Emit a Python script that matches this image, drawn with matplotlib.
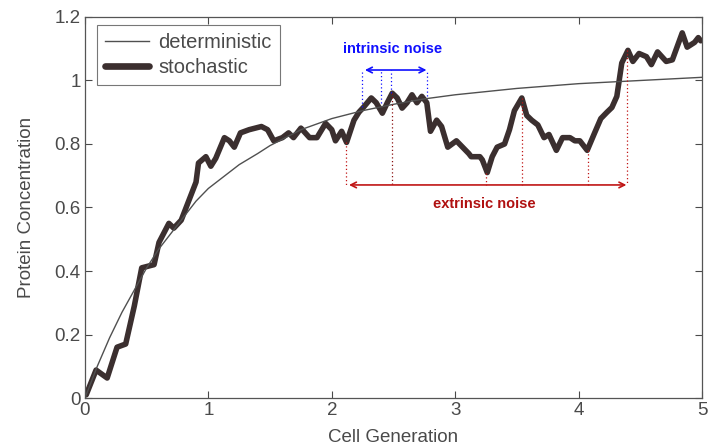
import matplotlib
matplotlib.use("Agg")
import matplotlib.pyplot as plt

plt.rcParams['font.family'] = ['Liberation Sans', 'DejaVu Sans']

# deterministic curve
det_x = [0.0, 0.05, 0.1, 0.2, 0.3, 0.4, 0.5, 0.6, 0.7, 0.8, 0.9, 1.0, 1.1, 1.25, 1.4,
         1.5, 1.75, 2.0, 2.25, 2.5, 2.75, 3.0, 3.5, 4.0, 4.5, 5.0]
det_y = [0.0, 0.05, 0.10, 0.19, 0.27, 0.34, 0.41, 0.47, 0.52, 0.57, 0.62, 0.66, 0.69, 0.735, 0.77,
         0.795, 0.845, 0.88, 0.905, 0.925, 0.942, 0.955, 0.975, 0.99, 1.0, 1.01]

# stochastic trajectory
sto_x = [0.01, 0.09, 0.18, 0.26, 0.33, 0.40, 0.46, 0.56, 0.60, 0.68, 0.72, 0.78, 0.84, 0.90,
         0.92, 0.98, 1.02, 1.06, 1.13, 1.17, 1.21, 1.26, 1.33, 1.43, 1.48, 1.53, 1.60, 1.65,
         1.69, 1.75, 1.82, 1.88, 1.95, 2.00, 2.03, 2.08, 2.12, 2.18, 2.22, 2.26, 2.32, 2.36,
         2.41, 2.45, 2.49, 2.53, 2.57, 2.61, 2.65, 2.69, 2.73, 2.77, 2.80, 2.85, 2.89, 2.94,
         3.01, 3.06, 3.11, 3.13, 3.20, 3.22, 3.26, 3.30, 3.34, 3.40, 3.44, 3.48, 3.54, 3.58,
         3.62, 3.67, 3.72, 3.76, 3.82, 3.87, 3.93, 3.97, 4.01, 4.07, 4.13, 4.18, 4.23, 4.27,
         4.31, 4.35, 4.40, 4.44, 4.49, 4.55, 4.59, 4.64, 4.71, 4.76, 4.84, 4.88, 4.94, 4.97,
         4.99]
sto_y = [0.01, 0.088, 0.063, 0.16, 0.17, 0.29, 0.41, 0.42, 0.49, 0.55, 0.535, 0.56, 0.62, 0.68,
         0.74, 0.76, 0.73, 0.755, 0.82, 0.81, 0.79, 0.835, 0.845, 0.855, 0.845, 0.81, 0.82, 0.835,
         0.82, 0.85, 0.82, 0.82, 0.865, 0.845, 0.81, 0.84, 0.805, 0.875, 0.90, 0.917, 0.945, 0.93,
         0.897, 0.93, 0.96, 0.945, 0.913, 0.93, 0.955, 0.93, 0.95, 0.93, 0.84, 0.875, 0.855, 0.79,
         0.81, 0.79, 0.77, 0.76, 0.76, 0.75, 0.71, 0.76, 0.79, 0.80, 0.845, 0.905, 0.945, 0.89,
         0.875, 0.86, 0.82, 0.83, 0.78, 0.82, 0.82, 0.81, 0.81, 0.78, 0.835, 0.88, 0.90, 0.915,
         0.95, 1.055, 1.095, 1.06, 1.085, 1.075, 1.05, 1.09, 1.06, 1.065, 1.15, 1.105, 1.12, 1.135,
         1.125]

# annotation positions (data units)
intr_lines_x = [2.246, 2.40, 2.48, 2.77]
intr_lines_top = [0.915, 0.93, 0.96, 0.95]
extr_lines_x = [2.117, 2.49, 3.25, 3.54, 4.08, 4.39]
extr_lines_top = [0.806, 0.96, 0.71, 0.945, 0.78, 1.095]

fig = plt.figure(figsize=(7.08, 4.47), dpi=100)
ax = fig.add_axes([0.12, 0.1096, 0.8715, 0.8524])

grey = '#4a4a4a'
ax.plot(det_x, det_y, color='#505050', lw=1.0, label='deterministic', zorder=3)
ax.plot(sto_x, sto_y, color='#3b2f2f', lw=4.0, label='stochastic', solid_joinstyle='round',
        solid_capstyle='round', zorder=2)

blue = '#1010ff'
red = '#c01515'
arrow_y_i = 1.033
for xv, top in zip(intr_lines_x, intr_lines_top):
    ax.plot([xv, xv], [top, arrow_y_i], ls=(0, (1, 2)), color=blue, lw=0.9, zorder=4)
ax.annotate('', xy=(2.246, arrow_y_i), xytext=(2.79, arrow_y_i),
            arrowprops=dict(arrowstyle='<->', color=blue, lw=1.2), zorder=5)
ax.text(2.49, 1.10, 'intrinsic noise', color=blue, fontsize=10.5, fontweight='bold',
        ha='center', va='center')

arrow_y_e = 0.671
for i, (xv, top) in enumerate(zip(extr_lines_x, extr_lines_top)):
    c = '#8a1010' if i == 1 else red
    ax.plot([xv, xv], [top, arrow_y_e], ls=(0, (1, 2)), color=c, lw=0.9, zorder=4)
ax.annotate('', xy=(2.117, arrow_y_e), xytext=(4.41, arrow_y_e),
            arrowprops=dict(arrowstyle='<->', color=red, lw=1.2), zorder=5)
ax.text(3.24, 0.61, 'extrinsic noise', color='#b01010', fontsize=10.5, fontweight='bold',
        ha='center', va='center')

ax.set_xlim(0, 5)
ax.set_ylim(0, 1.2)
ax.set_xticks([0, 1, 2, 3, 4, 5])
ax.set_yticks([0, 0.2, 0.4, 0.6, 0.8, 1.0, 1.2])
ax.set_xticklabels(['0', '1', '2', '3', '4', '5'])
ax.set_yticklabels(['0', '0.2', '0.4', '0.6', '0.8', '1', '1.2'])
ax.tick_params(direction='in', top=True, right=True, labelsize=13.5, colors=grey,
               length=5, width=0.8, pad=3)
for s in ax.spines.values():
    s.set_color('#555555')
    s.set_linewidth(0.9)
ax.set_xlabel('Cell Generation', fontsize=13.5, color=grey, labelpad=7)
ax.set_ylabel('Protein Concentration', fontsize=13.5, color=grey, labelpad=14)

leg = ax.legend(loc='upper left', fontsize=14.5, frameon=True, fancybox=False,
                edgecolor='#555555', handlelength=2.2, borderpad=0.4, labelspacing=0.3,
                handletextpad=0.45, bbox_to_anchor=(0.019, 0.979), borderaxespad=0.0)
leg.get_frame().set_linewidth(0.8)
leg.get_lines()[1].set_linewidth(4.8)
for t in leg.get_texts():
    t.set_color(grey)

fig.savefig('out.png', dpi=100)
